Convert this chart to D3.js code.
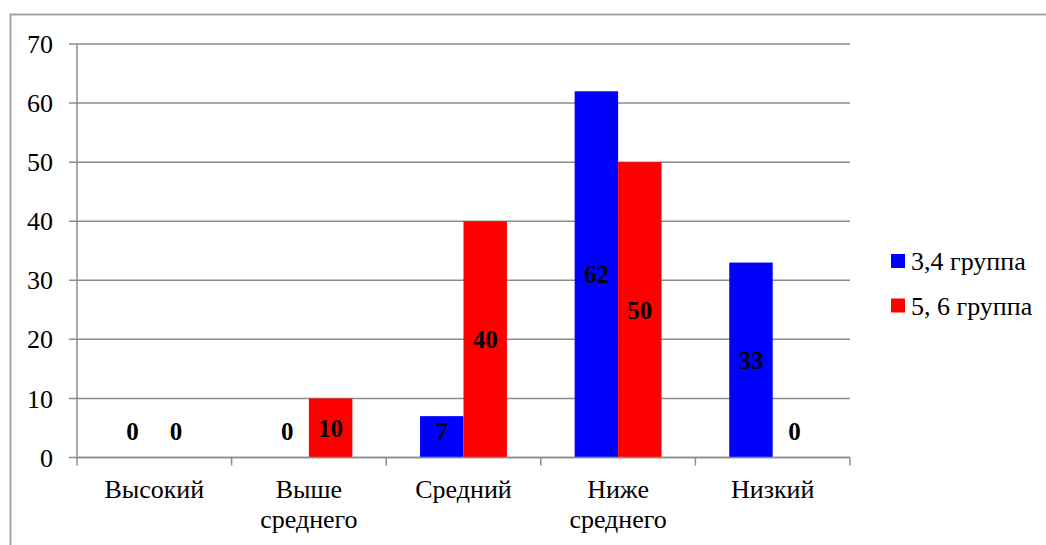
<!DOCTYPE html>
<html>
<head>
<meta charset="utf-8">
<script src="https://cdn.jsdelivr.net/npm/d3@7"></script>
</head>
<body style="margin:0; background:#fff">
<div id="chart"></div>
<script>
// chart data
const categories = [["Высокий"], ["Выше", "среднего"], ["Средний"], ["Ниже", "среднего"], ["Низкий"]];
const seriesNames = ["3,4 группа", "5, 6 группа"];
const seriesColors = ["#0000ff", "#ff0000"];
const group34 = [0, 0, 7, 62, 33];
const group56 = [0, 10, 40, 50, 0];
const yTicks = [0, 10, 20, 30, 40, 50, 60, 70];

const FONT = "\"Liberation Serif\", Tinos, \"Times New Roman\", serif";
const W = 1046, H = 545;
const margin = { top: 44, left: 77 };
const width = 850 - margin.left;
const height = 457.5 - margin.top;

const svg = d3.select("#chart").append("svg")
    .attr("width", W)
    .attr("height", H)
    .attr("font-family", FONT)
    .style("font-family", FONT, "important");

// outer frame (only top/left visible in the original)
svg.append("rect")
    .attr("x", 10.5).attr("y", 14.5)
    .attr("width", W + 20).attr("height", H + 20)
    .attr("fill", "none")
    .attr("stroke", "#a6a6a6")
    .attr("stroke-width", 2);

const g = svg.append("g")
    .attr("transform", `translate(${margin.left},${margin.top})`);

const x = d3.scaleBand()
    .domain(d3.range(categories.length))
    .range([0, width]);

const y = d3.scaleLinear()
    .domain([0, 70])
    .range([height, 0]);

// gridlines + left ticks
g.append("g")
    .selectAll("line")
    .data(yTicks)
    .enter()
    .append("line")
    .attr("x1", -8)
    .attr("x2", width)
    .attr("y1", d => y(d))
    .attr("y2", d => y(d))
    .attr("stroke", "#8c8c8c")
    .attr("stroke-width", 1.5);

g.append("g")
    .selectAll("text")
    .data(yTicks)
    .enter()
    .append("text")
    .attr("x", -24)
    .attr("y", d => y(d))
    .attr("dy", "0.35em")
    .attr("text-anchor", "end")
    .style("font-family", FONT, "important")
    .style("font-size", "26px")
    .text(d => d);

// bars
const barW = x.bandwidth() * 0.281;
const series = [group34, group56];

series.forEach((vals, si) => {
    const sg = g.append("g");
    sg.selectAll("rect")
        .data(vals)
        .enter()
        .append("rect")
        .attr("x", (d, i) => x(i) + x.bandwidth() / 2 - barW + si * barW)
        .attr("y", d => y(d))
        .attr("width", barW)
        .attr("height", d => height - y(d))
        .attr("fill", seriesColors[si]);

    sg.selectAll("text")
        .data(vals)
        .enter()
        .append("text")
        .attr("x", (d, i) => x(i) + x.bandwidth() / 2 - barW / 2 + si * barW)
        .attr("y", d => Math.min((y(d) + height) / 2, height - 26))
        .attr("dy", "0.35em")
        .attr("text-anchor", "middle")
        .style("font-family", FONT, "important")
        .style("font-size", "25px")
        .style("font-weight", "bold")
        .text(d => d);
});

// axes lines
g.append("line")
    .attr("x1", 0).attr("x2", 0)
    .attr("y1", 0).attr("y2", height)
    .attr("stroke", "#8c8c8c")
    .attr("stroke-width", 1.5);

g.append("line")
    .attr("x1", 0).attr("x2", width)
    .attr("y1", height).attr("y2", height)
    .attr("stroke", "#8c8c8c")
    .attr("stroke-width", 1.5);

// category boundary ticks
g.append("g")
    .selectAll("line")
    .data(d3.range(categories.length + 1))
    .enter()
    .append("line")
    .attr("x1", i => i * x.step())
    .attr("x2", i => i * x.step())
    .attr("y1", height)
    .attr("y2", height + 8)
    .attr("stroke", "#8c8c8c")
    .attr("stroke-width", 1.5);

// category labels
const catLabels = g.append("g")
    .selectAll("text")
    .data(categories)
    .enter()
    .append("text")
    .attr("x", (d, i) => x(i) + x.bandwidth() / 2)
    .attr("y", height + 40)
    .attr("text-anchor", "middle")
    .style("font-family", FONT, "important")
    .style("font-size", "26px");

catLabels.selectAll("tspan")
    .data(d => d)
    .enter()
    .append("tspan")
    .attr("x", function() { return d3.select(this.parentNode).attr("x"); })
    .attr("dy", (d, i) => i === 0 ? 0 : 30)
    .style("font-family", FONT, "important")
    .text(d => d);

// legend
const legend = svg.append("g")
    .attr("transform", "translate(891,254)");

const items = legend.selectAll("g")
    .data(seriesNames)
    .enter()
    .append("g")
    .attr("transform", (d, i) => `translate(0,${i * 44.5})`);

items.append("rect")
    .attr("width", 14)
    .attr("height", 14)
    .attr("fill", (d, i) => seriesColors[i]);

items.append("text")
    .attr("x", 20)
    .attr("y", 7)
    .attr("dy", "0.35em")
    .style("font-family", FONT, "important")
    .style("font-size", "26px")
    .text(d => d);
</script>
</body>
</html>
